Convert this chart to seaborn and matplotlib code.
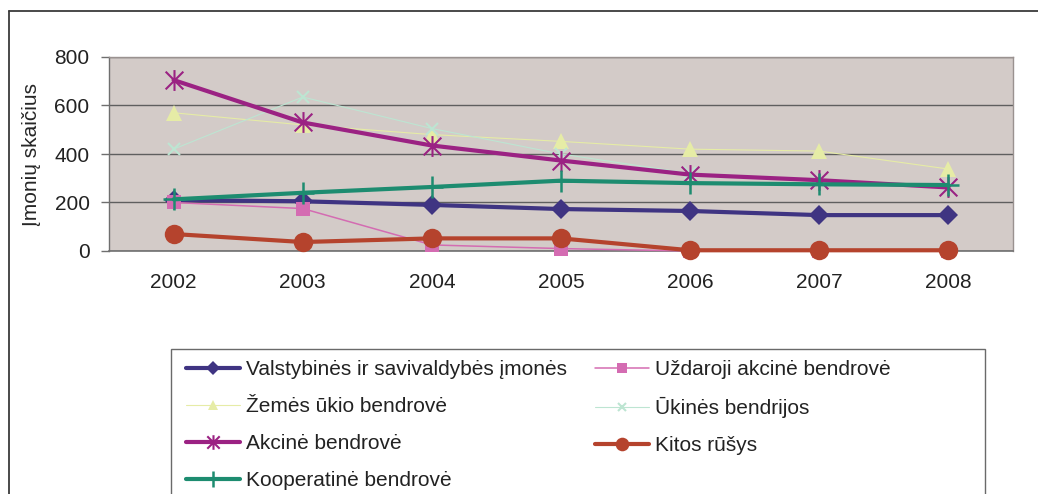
import numpy as np
import pandas as pd
import seaborn as sns
import matplotlib.pyplot as plt
from matplotlib.lines import Line2D
from matplotlib.patches import Rectangle
from matplotlib.path import Path

years = [2002, 2003, 2004, 2005, 2006, 2007, 2008]

valstybines = [210, 205, 190, 173, 165, 148, 148]
uzdaroji = [200, 175, 25, 10, 0, 0, 0]
zemes_ukio = [570, 520, 480, 452, 420, 412, 338]
ukines = [420, 635, 505, 400, 320, 290, 265]
akcine = [705, 530, 435, 373, 315, 292, 262]
kitos = [70, 37, 52, 52, 3, 3, 3]
kooperatine = [213, 240, 264, 290, 280, 275, 272]

series_names = [
    "Valstybinės ir savivaldybės įmonės",
    "Uždaroji akcinė bendrovė",
    "Žemės ūkio bendrovė",
    "Ūkinės bendrijos",
    "Akcinė bendrovė",
    "Kitos rūšys",
    "Kooperatinė bendrovė",
]
series_values = [valstybines, uzdaroji, zemes_ukio, ukines, akcine, kitos, kooperatine]

# Excel style star: an X with a vertical stroke through it
star = Path([(-0.85, -0.85), (0.85, 0.85), (-0.85, 0.85), (0.85, -0.85), (0, -1), (0, 1)],
            [Path.MOVETO, Path.LINETO, Path.MOVETO, Path.LINETO, Path.MOVETO, Path.LINETO])

# style per series: color, marker, markersize, linewidth, marker edge width
styles = [
    dict(color="#3f3482", marker="D", markersize=10, linewidth=3.0, mew=0),
    dict(color="#d46cb2", marker="s", markersize=10, linewidth=1.1, mew=0),
    dict(color="#e6eca6", marker="^", markersize=11, linewidth=0.8, mew=0),
    dict(color="#bde5d2", marker="x", markersize=9, linewidth=0.8, mew=1.5),
    dict(color="#9b2283", marker=star, markersize=15, linewidth=3.0, mew=1.5),
    dict(color="#b5432d", marker="o", markersize=14, linewidth=3.0, mew=0),
    dict(color="#1d8c70", marker="+", markersize=16, linewidth=3.0, mew=1.8),
]

sns.set_style("white")
plt.rcParams["font.family"] = ["Liberation Sans", "DejaVu Sans"]
plt.rcParams["font.size"] = 15
plt.rcParams["text.color"] = "#222222"

W, H = 1038, 494
fig = plt.figure(figsize=(W / 100, H / 100), dpi=100)
ax = fig.add_axes([109 / W, 1 - 251 / H, (1013 - 109) / W, (251 - 57) / H])
ax.set_facecolor("#d3cbc8")

for name, vals, st in zip(series_names, series_values, styles):
    df = pd.DataFrame({"year": years, "value": vals})
    sns.lineplot(data=df, x="year", y="value", ax=ax, label=name,
                 color=st["color"], marker=st["marker"], markersize=st["markersize"],
                 linewidth=st["linewidth"], markeredgewidth=st["mew"],
                 markeredgecolor=st["color"], markerfacecolor=st["color"],
                 clip_on=False, zorder=3)

ax.set_xlim(2001.5, 2008.5)
ax.set_ylim(0, 800)
ax.set_yticks([0, 200, 400, 600, 800])
ax.set_xticks(years)
ax.set_xticklabels([str(y) for y in years])
ax.set_xticks(np.arange(2001.5, 2009, 1.0), minor=True)
ax.tick_params(axis="x", which="major", length=0, pad=16, labelsize=15, colors="#222222")
ax.tick_params(axis="x", which="minor", length=6, width=1, color="#6f6f6f", direction="out")
ax.tick_params(axis="y", length=6, width=1, color="#6f6f6f", pad=8, labelsize=15,
               labelcolor="#222222", direction="out", left=True)
ax.yaxis.grid(True, color="#5f5f5f", linewidth=1.0)
ax.set_axisbelow(True)
ax.set_xlabel("")
ax.set_ylabel("Įmonių skaičius", fontsize=15, labelpad=10)

for side in ["top", "right"]:
    ax.spines[side].set_visible(True)
    ax.spines[side].set_color("#9a9290")
    ax.spines[side].set_linewidth(1.0)
ax.spines["left"].set_color("#6f6f6f")
ax.spines["bottom"].set_color("#6f6f6f")
ax.spines["left"].set_linewidth(1.0)
ax.spines["bottom"].set_linewidth(1.2)

handles, labels = ax.get_legend_handles_labels()
if ax.get_legend() is not None:
    ax.get_legend().remove()

# outer chart frame (continues beyond the right and bottom edges)
fig.add_artist(Line2D([9 / W, 9 / W], [1 - 11 / H, -0.1], transform=fig.transFigure,
                      color="#3a3a3a", linewidth=1.3))
fig.add_artist(Line2D([9 / W, 1.1], [1 - 11 / H, 1 - 11 / H], transform=fig.transFigure,
                      color="#3a3a3a", linewidth=1.3))

# legend box
fig.add_artist(Rectangle((171 / W, -0.1), (985 - 171) / W, (1 - 349 / H) + 0.1,
                         transform=fig.transFigure, fill=False, edgecolor="#6a6a6a",
                         linewidth=1.0))

order = [0, 2, 4, 6, 1, 3, 5]
leg = fig.legend([handles[i] for i in order], [labels[i] for i in order],
                 ncol=2, loc="upper left", bbox_to_anchor=(186 / W, 1 - 360 / H),
                 frameon=False, fontsize=15, handlelength=2.6, handletextpad=0.3,
                 columnspacing=1.3, labelspacing=0.87, borderpad=0, borderaxespad=0,
                 markerscale=0.7)

fig.savefig("out.png", dpi=100, facecolor="white")
